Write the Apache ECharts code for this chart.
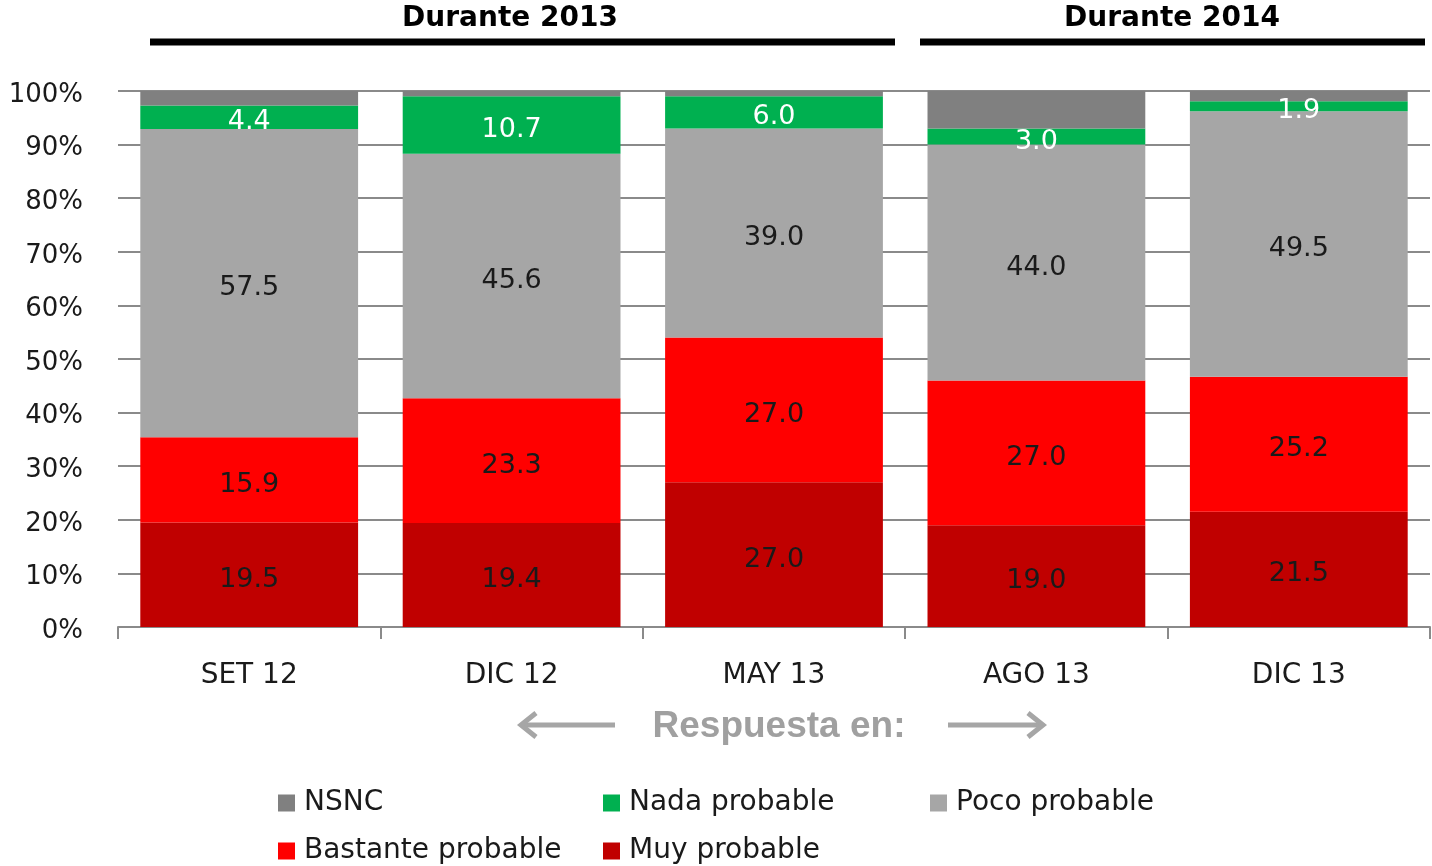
<!DOCTYPE html>
<html>
<head>
<meta charset="utf-8">
<script src="https://cdn.jsdelivr.net/npm/echarts@6/dist/echarts.min.js"></script>
<style>
  html, body { margin: 0; padding: 0; background: #fff; }
  #chart { width: 1432px; height: 866px; }
</style>
</head>
<body>
<div id="chart"></div>
<script>
// datos
const categorias = ["SET 12", "DIC 12", "MAY 13", "AGO 13", "DIC 13"];
const muyProbable = [19.5, 19.4, 27.0, 19.0, 21.5];
const bastanteProbable = [15.9, 23.3, 27.0, 27.0, 25.2];
const pocoProbable = [57.5, 45.6, 39.0, 44.0, 49.5];
const nadaProbable = [4.4, 10.7, 6.0, 3.0, 1.9];
const nsnc = [2.7, 1.0, 1.0, 7.0, 1.9];
const ticksY = [0, 10, 20, 30, 40, 50, 60, 70, 80, 90, 100];

const FONT = "DejaVu Sans";
const oscuro = "#1a1a1a";

function serie(nombre, datos, color, colorTexto, mostrar) {
  return {
    name: nombre,
    type: "bar",
    stack: "total",
    barCategoryGap: "17%",
    data: datos,
    itemStyle: { color: color },
    label: {
      show: mostrar,
      position: "inside",
      offset: [0, 5],
      color: colorTexto,
      fontFamily: FONT,
      fontSize: 27,
      formatter: function (p) {
        return p.value.toFixed(1);
      },
    },
  };
}

// una leyenda por elemento, para colocarlas en rejilla como el original
function leyenda(nombre, x, y) {
  return {
    data: [nombre],
    left: x,
    top: y,
    padding: 0,
    icon: "rect",
    itemWidth: 17,
    itemHeight: 17,
    textStyle: { fontFamily: FONT, fontSize: 28, color: oscuro, padding: [0, 0, 0, 4] },
  };
}

let chart = echarts.init(document.getElementById("chart"));
chart.setOption({
  backgroundColor: "#fff",
  animation: false,
  grid: {
    left: 118,
    right: 2,
    top: 91,
    bottom: 239,
    containLabel: false,
    outerBoundsMode: "none",
  },
  legend: [
    leyenda("NSNC", 278, 789),
    leyenda("Nada probable", 603, 789),
    leyenda("Poco probable", 930, 789),
    leyenda("Bastante probable", 278, 837),
    leyenda("Muy probable", 603, 837),
  ],
  xAxis: {
    type: "category",
    data: categorias,
    axisLine: { lineStyle: { color: "#8a8a8a", width: 2 } },
    axisTick: { show: true, length: 12, lineStyle: { color: "#8a8a8a", width: 2 } },
    axisLabel: {
      margin: 35,
      fontFamily: FONT,
      fontSize: 28,
      color: oscuro,
    },
  },
  yAxis: {
    type: "value",
    min: ticksY[0],
    max: ticksY[ticksY.length - 1],
    interval: 10,
    axisLine: { show: false },
    axisTick: { show: false },
    splitLine: { lineStyle: { color: "#8a8a8a", width: 2 } },
    axisLabel: {
      margin: 35,
      fontFamily: FONT,
      fontSize: 26,
      color: oscuro,
      verticalAlign: "top",
      lineHeight: 8,
      formatter: "{value}%",
    },
  },
  series: [
    serie("Muy probable", muyProbable, "#C00000", oscuro, true),
    serie("Bastante probable", bastanteProbable, "#FF0000", oscuro, true),
    serie("Poco probable", pocoProbable, "#A6A6A6", oscuro, true),
    serie("Nada probable", nadaProbable, "#00B050", "#ffffff", true),
    serie("NSNC", nsnc, "#808080", oscuro, false),
  ],
  graphic: [
    // encabezados
    {
      type: "text",
      style: { x: 510, y: 19, text: "Durante 2013", textAlign: "center", textVerticalAlign: "middle",
        fontFamily: FONT, fontWeight: "bold", fontSize: 28, fill: "#000" },
    },
    {
      type: "text",
      style: { x: 1172, y: 19, text: "Durante 2014", textAlign: "center", textVerticalAlign: "middle",
        fontFamily: FONT, fontWeight: "bold", fontSize: 28, fill: "#000" },
    },
    { type: "line", shape: { x1: 150, y1: 42, x2: 895, y2: 42 }, style: { stroke: "#000", lineWidth: 7 } },
    { type: "line", shape: { x1: 920, y1: 42, x2: 1425, y2: 42 }, style: { stroke: "#000", lineWidth: 7 } },
    // respuesta en
    {
      type: "text",
      style: { x: 779, y: 727, text: "Respuesta en:", textAlign: "center", textVerticalAlign: "middle",
        fontFamily: "Liberation Sans", fontWeight: "bold", fontSize: 37, fill: "#A0A0A0" },
    },
    { type: "line", shape: { x1: 522, y1: 725, x2: 615, y2: 725 }, style: { stroke: "#A6A6A6", lineWidth: 5 } },
    { type: "polyline", shape: { points: [[536, 713], [521, 725], [536, 737]] }, style: { stroke: "#A6A6A6", lineWidth: 5, fill: null } },
    { type: "line", shape: { x1: 948, y1: 725, x2: 1041, y2: 725 }, style: { stroke: "#A6A6A6", lineWidth: 5 } },
    { type: "polyline", shape: { points: [[1028, 713], [1043, 725], [1028, 737]] }, style: { stroke: "#A6A6A6", lineWidth: 5, fill: null } },
  ],
});
</script>
</body>
</html>
